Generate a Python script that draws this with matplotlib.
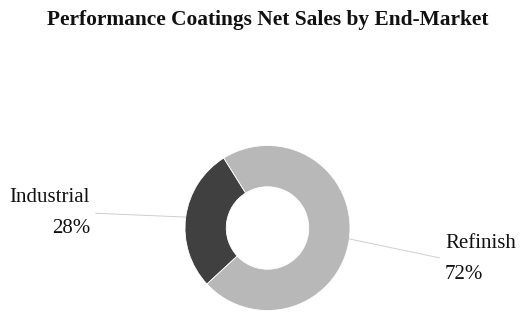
import numpy as np
import matplotlib

matplotlib.use("Agg")
import matplotlib.pyplot as plt  # noqa: E402

labels = ["Industrial", "Refinish"]
shares = [28, 72]
colors = ["#404040", "#b8b8b8"]

plt.rcParams["font.family"] = ["Liberation Serif", "DejaVu Serif"]

W, H = 520, 313
fig = plt.figure(figsize=(W / 100, H / 100), dpi=100)
fig.patch.set_facecolor("white")

# donut centre (267.5, 228) px from top-left, outer radius 82.5 px
cx, cy, r = 267.5, 228, 82.5
ax = fig.add_axes([(cx - r) / W, (H - cy - r) / H, 2 * r / W, 2 * r / H])
start = 122
wedges, _ = ax.pie(shares, colors=colors, startangle=start, counterclock=True,
                   radius=1.0, wedgeprops=dict(width=0.5, edgecolor="white", linewidth=0.6))
ax.set_xlim(-1, 1)
ax.set_ylim(-1, 1)
ax.set_aspect("equal")
ax.axis("off")

# label positions in figure pixels (from bottom-left), and alignment
label_pos = [(90, H - 213, "right", (1, 0.5)), (445, H - 259, "left", (0, 0.5))]
for w, lab, val, (tx, ty, ha, rel) in zip(wedges, labels, shares, label_pos):
    mid = np.deg2rad((w.theta1 + w.theta2) / 2)
    ax.annotate(f"{lab}\n{val}%", xy=(np.cos(mid), np.sin(mid)),
                xycoords="data", xytext=(tx, ty), textcoords="figure pixels",
                ha=ha, va="center", multialignment=ha, fontsize=15,
                linespacing=1.8, color="#111111",
                arrowprops=dict(arrowstyle="-", color="#cfcfcf", lw=0.7,
                                relpos=rel, shrinkA=2, shrinkB=0))

fig.text(268 / W, 1 - 20 / H, "Performance Coatings Net Sales by End-Market",
         ha="center", va="center", fontsize=15.4, fontweight="bold", color="#111111")

fig.savefig("out.png", dpi=100)
